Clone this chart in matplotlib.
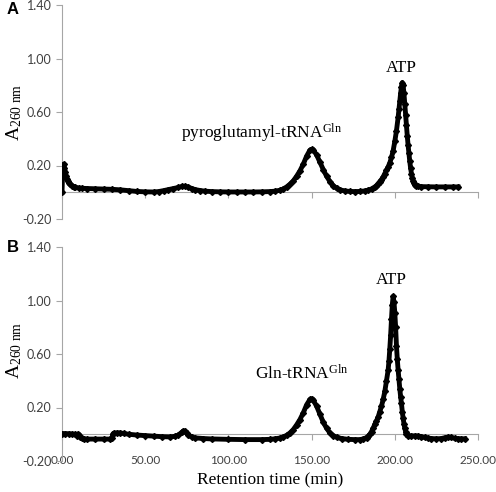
# HPLC traces of tRNA products (panel A and B)

import matplotlib.pyplot as plt
import numpy as np

# Panel A: pyroglutamyl-tRNA(Gln) run
time_a = [0, 0.5, 1, 1.5, 2, 2.5, 3, 3.5, 4, 5, 6, 7, 8, 10, 12, 15, 20, 25, 30, 35,
          40, 45, 50, 55, 58, 61, 64, 67, 70, 72, 74, 76, 78, 80, 83, 86, 90, 95, 100, 105,
          110, 115, 120, 125, 128, 131, 133, 135, 137, 139, 141, 143, 145, 147, 149, 150, 151, 153, 155, 157,
          159, 161, 163, 165, 167, 170, 173, 176, 179, 182, 184, 186, 188, 189, 190, 191, 192, 193, 194, 195,
          196, 197, 198, 199, 200, 201, 202, 202.5, 203, 203.5, 204, 204.5, 205, 205.5, 206, 206.5, 207, 207.5, 208, 208.5,
          209, 209.5, 210, 210.5, 211, 211.5, 212, 213, 214, 216, 220, 225, 230, 235, 238]
abs_a = [0.0, 0.19, 0.21, 0.18, 0.15, 0.12, 0.10, 0.085, 0.072, 0.058, 0.048, 0.042, 0.037, 0.032, 0.030, 0.028, 0.026, 0.024, 0.022, 0.018,
         0.012, 0.006, 0.003, 0.002, 0.005, 0.012, 0.020, 0.028, 0.036, 0.043, 0.045, 0.038, 0.028, 0.020, 0.013, 0.008, 0.005, 0.003, 0.002, 0.002,
         0.002, 0.002, 0.003, 0.005, 0.008, 0.015, 0.025, 0.040, 0.060, 0.085, 0.12, 0.16, 0.21, 0.27, 0.315, 0.32, 0.315, 0.28, 0.225, 0.17,
         0.12, 0.08, 0.05, 0.03, 0.018, 0.010, 0.006, 0.005, 0.006, 0.010, 0.016, 0.025, 0.040, 0.050, 0.065, 0.08, 0.095, 0.115, 0.14, 0.165,
         0.19, 0.22, 0.26, 0.31, 0.38, 0.46, 0.56, 0.62, 0.68, 0.74, 0.79, 0.82, 0.80, 0.74, 0.66, 0.58, 0.50, 0.42, 0.35, 0.29,
         0.23, 0.18, 0.14, 0.11, 0.085, 0.068, 0.057, 0.048, 0.044, 0.042, 0.041, 0.040, 0.040, 0.040, 0.040]

# Panel B: Gln-tRNA(Gln) run
time_b = [0, 2, 4, 6, 8, 9, 9.5, 10, 11, 12, 13, 15, 20, 25, 29, 30, 30.5, 31, 33, 35,
          37, 40, 45, 50, 55, 60, 65, 68, 70, 72, 73, 74, 75, 76, 78, 80, 85, 90, 100, 110,
          120, 125, 128, 131, 133, 135, 137, 139, 141, 143, 145, 147, 149, 150, 151, 153, 155, 157, 159, 161,
          163, 165, 168, 172, 176, 179, 181, 183, 184, 185, 186, 187, 188, 189, 190, 191, 192, 193, 194, 195,
          196, 196.5, 197, 197.5, 198, 198.5, 199, 199.5, 200, 200.5, 201, 201.5, 202, 202.5, 203, 203.5, 204, 204.5, 205, 205.5,
          206, 206.5, 207, 208, 210, 212, 214, 216, 218, 220, 222, 225, 228, 230, 232, 234, 236, 238, 240, 242]
abs_b = [0.005, 0.005, 0.004, 0.002, 0.0, -0.010, 0.002, -0.008, -0.020, -0.030, -0.035, -0.036, -0.036, -0.036, -0.036, -0.030, 0.0, 0.008, 0.010, 0.010,
         0.006, 0.0, -0.006, -0.010, -0.014, -0.018, -0.020, -0.015, -0.005, 0.015, 0.025, 0.022, 0.010, -0.005, -0.020, -0.027, -0.032, -0.035, -0.038, -0.040,
         -0.040, -0.038, -0.034, -0.028, -0.020, -0.008, 0.010, 0.035, 0.070, 0.11, 0.16, 0.22, 0.26, 0.265, 0.255, 0.21, 0.15, 0.09, 0.045, 0.010,
         -0.010, -0.022, -0.032, -0.038, -0.040, -0.040, -0.035, -0.025, -0.015, 0.0, 0.02, 0.045, 0.075, 0.10, 0.13, 0.17, 0.21, 0.26, 0.32, 0.40,
         0.48, 0.55, 0.64, 0.74, 0.86, 0.97, 1.03, 0.99, 0.91, 0.80, 0.66, 0.56, 0.48, 0.41, 0.34, 0.28, 0.23, 0.17, 0.12, 0.08,
         0.045, 0.02, 0.0, -0.010, -0.012, -0.012, -0.013, -0.018, -0.024, -0.028, -0.032, -0.034, -0.032, -0.026, -0.022, -0.024, -0.030, -0.033, -0.034, -0.034]

x_ticks = [0, 50, 100, 150, 200, 250]
y_ticks = [-0.2, 0.2, 0.6, 1.0, 1.4]

plt.rcParams['mathtext.fontset'] = 'custom'
plt.rcParams['mathtext.rm'] = 'Liberation Serif'
plt.rcParams['mathtext.it'] = 'Liberation Serif:italic'

grey = '#a6a6a6'
tick_col = '#404040'
serif = 'Liberation Serif'

fig = plt.figure(figsize=(4.96, 4.92), dpi=100)
ax_a = fig.add_axes([62 / 496, (492 - 219) / 492, 416 / 496, 214 / 492])
ax_b = fig.add_axes([62 / 496, (492 - 461) / 492, 416 / 496, 214 / 492])


def style_axes(ax, show_xlabels):
    ax.set_xlim(0, 250)
    ax.set_ylim(-0.2, 1.4)
    ax.set_xticks(x_ticks)
    ax.set_yticks(y_ticks)
    ax.set_yticklabels(['%.2f' % v for v in y_ticks])
    for s in ['top', 'right']:
        ax.spines[s].set_visible(False)
    ax.spines['left'].set_color(grey)
    ax.spines['bottom'].set_color(grey)
    ax.spines['bottom'].set_position(('data', 0))
    ax.tick_params(axis='both', colors=grey, length=4, width=0.8,
                   labelcolor=tick_col, labelsize=9)
    ax.tick_params(axis='x', direction='out', pad=11, labelsize=8.5)
    for lab in ax.get_yticklabels() + ax.get_xticklabels():
        lab.set_family('Lato')
    if show_xlabels:
        ax.set_xticklabels(['%.2f' % v for v in x_ticks])
    else:
        ax.set_xticklabels([])
    ax.patch.set_alpha(0)


style_axes(ax_a, False)
style_axes(ax_b, True)

ax_a.plot(time_a, abs_a, color='black', lw=3.5, marker='D', ms=3, zorder=3)
ax_b.plot(time_b, abs_b, color='black', lw=3.5, marker='D', ms=3, zorder=3)

# peak labels
ax_a.text(120, 0.44, r'pyroglutamyl-tRNA$^{\mathrm{Gln}}$', family=serif, fontsize=12.5,
          ha='center', va='center')
ax_a.text(204, 0.93, 'ATP', family=serif, fontsize=12.5, ha='center', va='center')
ax_b.text(144, 0.45, r'Gln-tRNA$^{\mathrm{Gln}}$', family=serif, fontsize=12.5,
          ha='center', va='center')
ax_b.text(198, 1.15, 'ATP', family=serif, fontsize=12.5, ha='center', va='center')

# y labels and x label as figure text
fig.text(14 / 496, 1 - 112 / 492, r'A$_{\mathrm{260\ nm}}$', family=serif, fontsize=14,
         rotation=90, ha='center', va='center')
fig.text(14 / 496, 1 - 350 / 492, r'A$_{\mathrm{260\ nm}}$', family=serif, fontsize=14,
         rotation=90, ha='center', va='center')
fig.text(270 / 496, 1 - 480 / 492, 'Retention time (min)', family=serif, fontsize=12.5,
         ha='center', va='center')

fig.text(7 / 496, 1 - 10 / 492, 'A', family='Liberation Sans', weight='bold',
         fontsize=12, ha='left', va='center')
fig.text(7 / 496, 1 - 247 / 492, 'B', family='Liberation Sans', weight='bold',
         fontsize=12, ha='left', va='center')

plt.savefig('out.png', dpi=100)
